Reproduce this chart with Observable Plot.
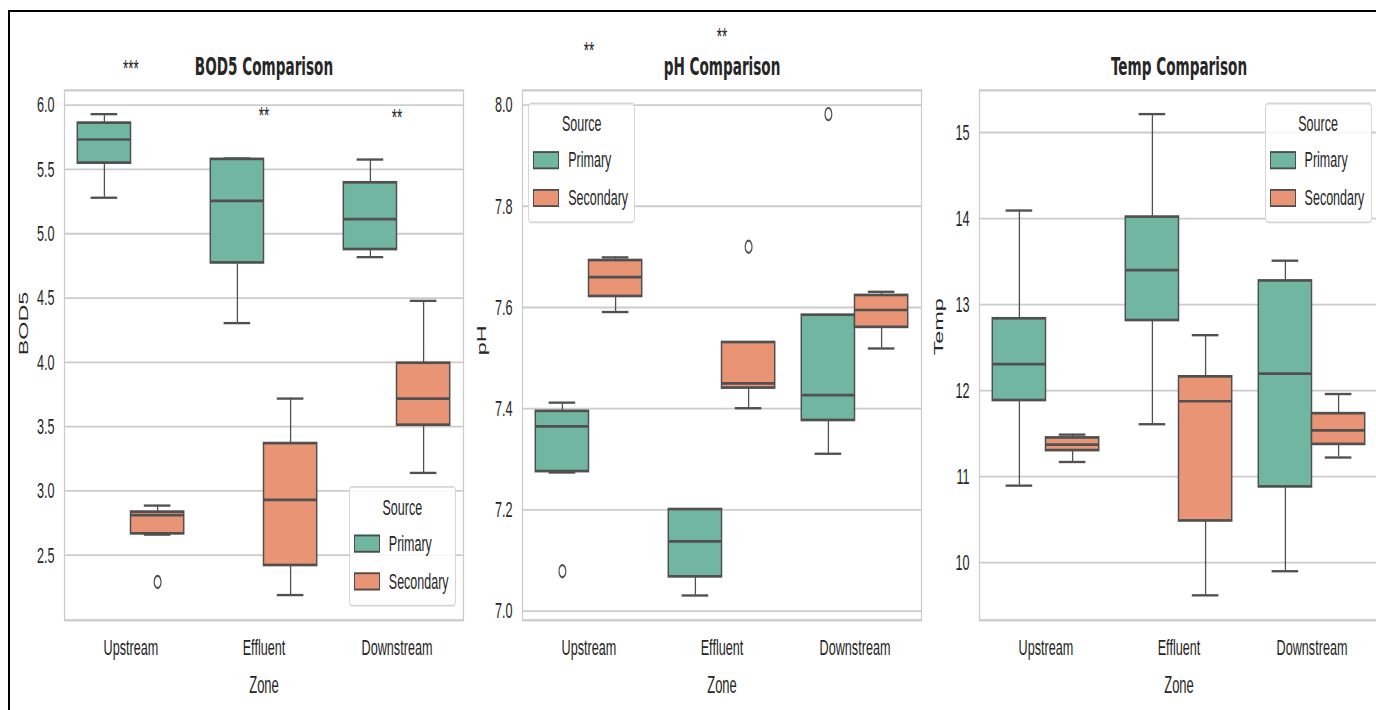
<!DOCTYPE html>
<html>
<head>
<meta charset="utf-8">
<script src="https://cdn.jsdelivr.net/npm/d3@7"></script>
<script src="https://cdn.jsdelivr.net/npm/@observablehq/plot@0.6"></script>
<style>
  html, body { margin: 0; padding: 0; background: #fff; overflow: hidden; width: 1376px; height: 710px; }
  #border { position: absolute; left: 8px; top: 10px; width: 1400px; height: 720px; border-left: 2px solid #000; border-top: 2px solid #000; }
  #stage { position: absolute; left: 0; top: 0; width: 1376px; transform-origin: 0 0; }
  .panel { position: absolute; top: 0; }
  .legend { position: absolute; width: 107px; height: 67.6px; box-sizing: border-box; border: 1px solid #d6d6d6; border-radius: 3px;
            background: rgba(255,255,255,0.85); font: 12.5px "Liberation Sans", Arial, sans-serif; color: #262626; }
  .legend .lt { position: absolute; left: 0; right: 0; top: 5.1px; line-height: 12px; text-align: center; }
  .legend .sw { position: absolute; left: 4px; width: 26px; height: 10px; box-sizing: border-box; border: 1.2px solid #4d4d4d; }
  .legend .lb { position: absolute; left: 39px; line-height: 12px; white-space: nowrap; }
</style>
</head>
<body>
<div id="border"></div>
<div id="stage"></div>
<script>
// ---------------- data ----------------
const zones = ["Upstream", "Effluent", "Downstream"];
const sources = ["Primary", "Secondary"];
const colors = ["#71b6a0", "#e99575"];
const titles = ["BOD5 Comparison", "pH Comparison", "Temp Comparison"];
const yLabels = ["BOD5", "pH", "Temp"];
const xLabel = "Zone";
const legendTitle = "Source";

// box stats per zone: [lower whisker, Q1, median, Q3, upper whisker]
const bod5Primary   = [[5.28, 5.546, 5.733, 5.857, 5.93], [4.305, 4.77, 5.256, 5.575, 5.585], [4.818, 4.874, 5.113, 5.393, 5.577]];
const bod5Secondary = [[2.66, 2.663, 2.811, 2.832, 2.886], [2.19, 2.417, 2.93, 3.365, 3.718], [3.14, 3.508, 3.718, 3.99, 4.478]];
const phPrimary     = [[7.274, 7.275, 7.365, 7.394, 7.412], [7.031, 7.067, 7.138, 7.2, 7.201], [7.311, 7.376, 7.427, 7.584, 7.585]];
const phSecondary   = [[7.591, 7.621, 7.66, 7.692, 7.699], [7.401, 7.44, 7.45, 7.53, 7.531], [7.519, 7.56, 7.595, 7.623, 7.631]];
const tempPrimary   = [[10.895, 11.88, 12.307, 12.83, 14.093], [11.609, 12.81, 13.4, 14.012, 15.214], [9.9, 10.876, 12.198, 13.27, 13.51]];
const tempSecondary = [[11.17, 11.298, 11.372, 11.445, 11.488], [9.62, 10.48, 11.876, 12.155, 12.644], [11.222, 11.37, 11.537, 11.727, 11.96]];

// outliers: [zone, source, value]
const bod5Outliers = [["Upstream", "Secondary", 2.292]];
const phOutliers   = [["Upstream", "Primary", 7.079], ["Effluent", "Secondary", 7.72], ["Downstream", "Primary", 7.982]];
const tempOutliers = [];

// significance markers: [zone, label, y]
const bod5Stars = [["Upstream", "***", 6.278], ["Effluent", "**", 5.916], ["Downstream", "**", 5.9]];
const phStars   = [["Upstream", "**", 8.106], ["Effluent", "**", 8.134]];
const tempStars = [];

const bod5Ticks = [2.5, 3.0, 3.5, 4.0, 4.5, 5.0, 5.5, 6.0];
const phTicks   = [7.0, 7.2, 7.4, 7.6, 7.8, 8.0];
const tempTicks = [10, 11, 12, 13, 14, 15];

const bod5Domain = [1.994, 6.115];
const phDomain   = [6.982, 8.029];
const tempDomain = [9.33, 15.49];

// ---------------- layout ----------------
const R = 1.8;             // vertical stretch of the whole picture
const W = 460, H = 392;
const ML = 60, MR = 1, MT = 49.7, MB = 47.9;
const panelLefts = [3.5, 461.7, 919.3];
const legendPos = ["lower right", "upper left", "upper right"];
const LINE = "#505050";
const INK = "#262626";
const FONT = '"Liberation Sans", Arial, sans-serif';

const stage = document.getElementById("stage");
stage.style.height = (710 / R) + "px";
stage.style.transform = `scaleY(${R})`;

const configs = [
  {stats: [bod5Primary, bod5Secondary], outliers: bod5Outliers, stars: bod5Stars, ticks: bod5Ticks, domain: bod5Domain, fmt: d3.format(".1f")},
  {stats: [phPrimary, phSecondary], outliers: phOutliers, stars: phStars, ticks: phTicks, domain: phDomain, fmt: d3.format(".1f")},
  {stats: [tempPrimary, tempSecondary], outliers: tempOutliers, stars: tempStars, ticks: tempTicks, domain: tempDomain, fmt: d3.format("d")}
];

function makePanel(i) {
  const cfg = configs[i];
  const rows = [];
  cfg.stats.forEach((arr, si) => arr.forEach((v, zi) => rows.push({
    zone: zones[zi], zi, source: sources[si], si, lo: v[0], q1: v[1], med: v[2], q3: v[3], hi: v[4]
  })));
  const xc = d => d.zi - 0.2 + d.si * 0.4;
  const bx1 = d => d.zi - 0.4 + d.si * 0.4;
  const bx2 = d => d.zi + d.si * 0.4;
  const cap = 0.1;

  const svg = Plot.plot({
    width: W, height: H,
    marginTop: MT, marginBottom: MB, marginLeft: ML, marginRight: MR,
    style: {background: "transparent", fontFamily: FONT, fontSize: "12.65px", color: INK, overflow: "visible"},
    x: {domain: [-0.5, 2.5]},
    y: {domain: cfg.domain},
    color: {domain: sources, range: colors},
    marks: [
      Plot.gridY(cfg.ticks, {stroke: "#cccccc", strokeOpacity: 1, strokeWidth: 1}),
      Plot.frame({stroke: "#cccccc", strokeWidth: 1.25}),
      Plot.axisY(cfg.ticks, {tickSize: 0, tickPadding: 10, tickFormat: cfg.fmt, label: null}),
      Plot.axisX([0, 1, 2], {tickSize: 0, tickPadding: 10.5, tickFormat: d => zones[d], label: null}),
      Plot.ruleX(rows, {x: xc, y1: "q3", y2: "hi", stroke: LINE, strokeWidth: 1.3}),
      Plot.ruleX(rows, {x: xc, y1: "lo", y2: "q1", stroke: LINE, strokeWidth: 1.3}),
      Plot.ruleY(rows, {y: "hi", x1: d => xc(d) - cap, x2: d => xc(d) + cap, stroke: LINE, strokeWidth: 1.3}),
      Plot.ruleY(rows, {y: "lo", x1: d => xc(d) - cap, x2: d => xc(d) + cap, stroke: LINE, strokeWidth: 1.3}),
      Plot.rect(rows, {x1: bx1, x2: bx2, y1: "q1", y2: "q3", fill: "source", stroke: LINE, strokeWidth: 1.5}),
      Plot.ruleY(rows, {y: "med", x1: bx1, x2: bx2, stroke: LINE, strokeWidth: 1.5}),
      Plot.dot(cfg.outliers, {x: d => zones.indexOf(d[0]) + (d[1] === "Primary" ? -0.2 : 0.2), y: d => d[2],
                              r: 3.4, stroke: LINE, strokeWidth: 1.2, fill: "none"}),
      Plot.text(cfg.stars, {x: d => zones.indexOf(d[0]), y: d => d[2], text: d => d[1],
                            fontSize: 13.5, fill: INK, lineAnchor: "middle"}),
      Plot.text([titles[i]], {frameAnchor: "top", lineAnchor: "bottom", dy: -8.6,
                              fontFamily: '"DejaVu Sans", sans-serif', fontWeight: "bold", fontSize: 13.6, fill: INK}),
      Plot.text([yLabels[i]], {frameAnchor: "left", rotate: -90, dx: -40.5, lineAnchor: "middle", fontSize: 13, fill: INK}),
      Plot.text([xLabel], {frameAnchor: "bottom", lineAnchor: "bottom", dy: 40.5, fontSize: 13, fill: INK})
    ]
  });

  const wrap = document.createElement("div");
  wrap.className = "panel";
  wrap.style.left = panelLefts[i] + "px";
  wrap.style.width = W + "px";
  wrap.style.height = H + "px";
  wrap.appendChild(svg);

  // legend
  const lg = document.createElement("div");
  lg.className = "legend";
  const pos = legendPos[i];
  const plotRight = W - MR, plotBottom = H - MB;
  const lw = 107, lh = 67.6;
  lg.style.left = (pos.includes("right") ? plotRight - 6.7 - lw : ML + 6.6) + "px";
  lg.style.top = (pos.includes("lower") ? plotBottom - 7 - lh : MT + 6.8) + "px";
  const t = document.createElement("div");
  t.className = "lt";
  t.textContent = legendTitle;
  lg.appendChild(t);
  sources.forEach((s, k) => {
    const sw = document.createElement("div");
    sw.className = "sw";
    sw.style.top = (26.8 + k * 21) + "px";
    sw.style.background = colors[k];
    lg.appendChild(sw);
    const lb = document.createElement("div");
    lb.className = "lb";
    lb.style.top = (25.8 + k * 21) + "px";
    lb.textContent = s;
    lg.appendChild(lb);
  });
  wrap.appendChild(lg);
  stage.appendChild(wrap);
}

[0, 1, 2].forEach(makePanel);
</script>
</body>
</html>
